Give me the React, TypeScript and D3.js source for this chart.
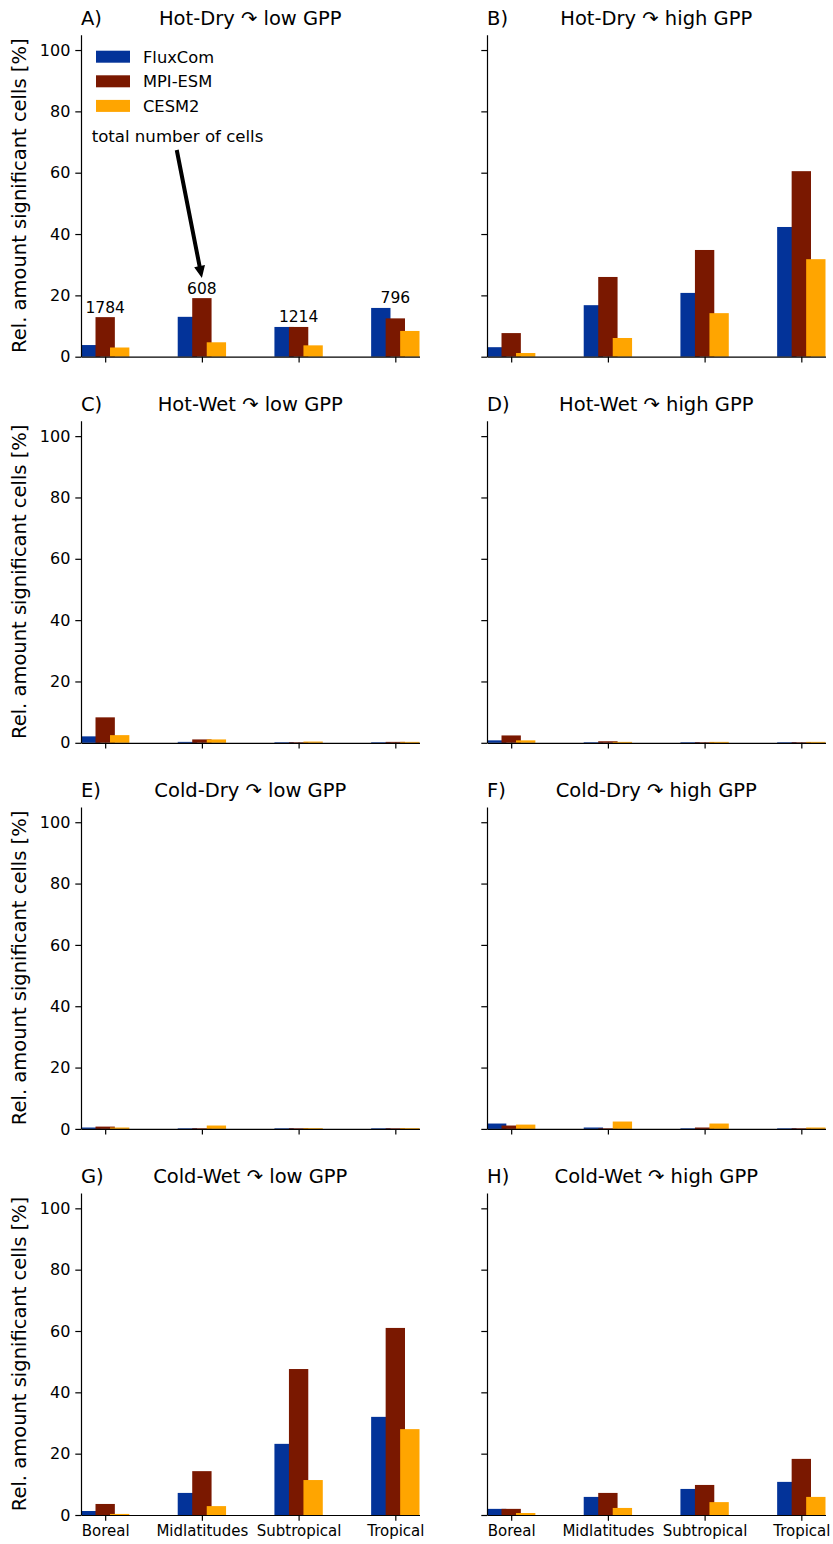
import { useEffect, useRef } from 'react'
import * as d3 from 'd3'

const categories = ['Boreal', 'Midlatitudes', 'Subtropical', 'Tropical']
const seriesNames = ['FluxCom', 'MPI-ESM', 'CESM2']
const seriesColors = ['#033399', '#7a1800', '#ffa500']
const yTicks = [0, 20, 40, 60, 80, 100]

const panelLetters = ['A)', 'B)', 'C)', 'D)', 'E)', 'F)', 'G)', 'H)']
const panelTitles = [
  'Hot-Dry ↷ low GPP', 'Hot-Dry ↷ high GPP',
  'Hot-Wet ↷ low GPP', 'Hot-Wet ↷ high GPP',
  'Cold-Dry ↷ low GPP', 'Cold-Dry ↷ high GPP',
  'Cold-Wet ↷ low GPP', 'Cold-Wet ↷ high GPP',
]

// rows: FluxCom, MPI-ESM, CESM2 ; columns follow categories
const hotDryLow = [[3.8, 13.0, 9.7, 15.9], [12.9, 19.1, 9.7, 12.5], [3.0, 4.7, 3.7, 8.4]]
const hotDryHigh = [[3.1, 16.8, 20.8, 42.3], [7.7, 26.0, 34.8, 60.5], [1.2, 6.1, 14.2, 31.8]]
const hotWetLow = [[2.1, 0.3, 0.2, 0.2], [8.3, 1.1, 0.2, 0.3], [2.5, 1.1, 0.4, 0.3]]
const hotWetHigh = [[0.8, 0.2, 0.2, 0.2], [2.4, 0.5, 0.2, 0.2], [0.8, 0.3, 0.3, 0.3]]
const coldDryLow = [[0.45, 0.2, 0.2, 0.2], [0.75, 0.2, 0.2, 0.2], [0.45, 1.1, 0.25, 0.25]]
const coldDryHigh = [[1.75, 0.45, 0.2, 0.2], [1.1, 0.2, 0.45, 0.2], [1.4, 2.4, 1.75, 0.45]]
const coldWetLow = [[1.3, 7.2, 23.2, 32.0], [3.6, 14.3, 47.6, 61.0], [0.35, 2.9, 11.4, 28.0]]
const coldWetHigh = [[2.0, 5.9, 8.5, 10.8], [2.0, 7.2, 9.8, 18.3], [0.65, 2.3, 4.2, 5.9]]

const panelData = [hotDryLow, hotDryHigh, hotWetLow, hotWetHigh, coldDryLow, coldDryHigh, coldWetLow, coldWetHigh]

// total number of cells per region (panel A)
const cellCounts = [1784, 608, 1214, 796]

const W = 833
const H = 1544
const FONT = '"DejaVu Sans", Verdana, sans-serif'

export default function App() {
  const ref = useRef<SVGSVGElement>(null)

  useEffect(() => {
    const svg = d3.select(ref.current)
    svg.selectAll('*').remove()

    const colX = [81, 487]
    const plotW = 338.5
    const plotH = 322
    const rowBottom = (r: number) => 356.7 + 386.1 * r
    const offsets = [-0.15, 0, 0.15]
    const barW = 0.2

    panelData.forEach((data, i) => {
      const row = Math.floor(i / 2)
      const col = i % 2
      const left = colX[col]
      const bottom = rowBottom(row)
      const top = bottom - plotH

      const x = d3.scaleLinear().domain([-0.25, 3.25]).range([left, left + plotW])
      const y = d3.scaleLinear().domain([0, 105]).range([bottom, top])

      const g = svg.append('g')

      // bars
      data.forEach((vals, s) => {
        g.selectAll(`.bar-${s}`)
          .data(vals)
          .join('rect')
          .attr('x', (_, k) => x(k + offsets[s] - barW / 2))
          .attr('width', x(barW) - x(0))
          .attr('y', d => y(d))
          .attr('height', d => y(0) - y(d))
          .attr('fill', seriesColors[s])
      })

      // y axis
      g.append('g')
        .attr('transform', `translate(${left},0)`)
        .call(
          d3.axisLeft(y).tickValues(yTicks).tickSize(5.7).tickPadding(5).tickSizeOuter(0)
            .tickFormat(col === 0 ? (d => String(d)) : () => '')
        )
        .call(a => a.selectAll('path,line').attr('stroke', '#000').attr('stroke-width', 1.2))
        .call(a => a.selectAll('text').attr('font-size', 16).attr('font-family', FONT).attr('fill', '#000'))

      // x axis
      g.append('g')
        .attr('transform', `translate(0,${bottom})`)
        .call(
          d3.axisBottom(x).tickValues([0, 1, 2, 3]).tickSize(5.7).tickPadding(4.5).tickSizeOuter(0)
            .tickFormat(row === 3 ? (d => categories[d as number]) : () => '')
        )
        .call(a => a.selectAll('path,line').attr('stroke', '#000').attr('stroke-width', 1.2))
        .call(a => a.selectAll('text').attr('font-size', 15).attr('font-family', FONT).attr('fill', '#000'))

      // titles
      g.append('text')
        .attr('x', left)
        .attr('y', top - 10)
        .attr('font-family', FONT)
        .attr('font-size', 19.5)
        .text(panelLetters[i])
      g.append('text')
        .attr('x', left + plotW / 2)
        .attr('y', top - 10)
        .attr('text-anchor', 'middle')
        .attr('font-family', FONT)
        .attr('font-size', 19.5)
        .text(panelTitles[i])

      // y label
      if (col === 0) {
        g.append('text')
          .attr('transform', `translate(26,${(top + bottom) / 2}) rotate(-90)`)
          .attr('text-anchor', 'middle')
          .attr('font-family', FONT)
          .attr('font-size', 19.5)
          .text('Rel. amount significant cells [%]')
      }

      if (i === 0) {
        // cell counts above groups
        g.selectAll('.count')
          .data(cellCounts)
          .join('text')
          .attr('x', (_, k) => x(k))
          .attr('y', (_, k) => y(d3.max(data, v => v[k]) + 1.5))
          .attr('text-anchor', 'middle')
          .attr('font-family', FONT)
          .attr('font-size', 15.5)
          .text(d => d)

        // legend
        seriesNames.forEach((name, s) => {
          const ly = 56.7 + s * 24.6
          g.append('rect')
            .attr('x', left + 15)
            .attr('y', ly - 6)
            .attr('width', 34)
            .attr('height', 12)
            .attr('fill', seriesColors[s])
          g.append('text')
            .attr('x', left + 62)
            .attr('y', ly)
            .attr('dy', '0.36em')
            .attr('font-family', FONT)
            .attr('font-size', 16.3)
            .text(name)
        })

        // annotation with arrow
        g.append('text')
          .attr('x', x(-0.14))
          .attr('y', y(70.1))
          .attr('font-family', FONT)
          .attr('font-size', 16.6)
          .text('total number of cells')

        const x1 = x(0.74), y1 = y(67.4), x2 = x(1), y2 = y(25.7)
        const len = Math.hypot(x2 - x1, y2 - y1)
        const ux = (x2 - x1) / len, uy = (y2 - y1) / len
        const px = -uy, py = ux
        const headL = 12, headW = 5.5, shaft = 2
        const bx = x2 - ux * headL, by = y2 - uy * headL
        const pts = [
          [x1 + px * shaft, y1 + py * shaft],
          [bx + px * shaft, by + py * shaft],
          [bx + px * headW, by + py * headW],
          [x2, y2],
          [bx - px * headW, by - py * headW],
          [bx - px * shaft, by - py * shaft],
          [x1 - px * shaft, y1 - py * shaft],
        ]
        g.append('path')
          .attr('d', d3.line()(pts as [number, number][]) + 'Z')
          .attr('fill', '#000')
      }
    })
  }, [])

  return (
    <svg
      ref={ref}
      width={W}
      height={H}
      style={{ position: 'absolute', left: 0, top: 0, background: '#fff' }}
    />
  )
}
